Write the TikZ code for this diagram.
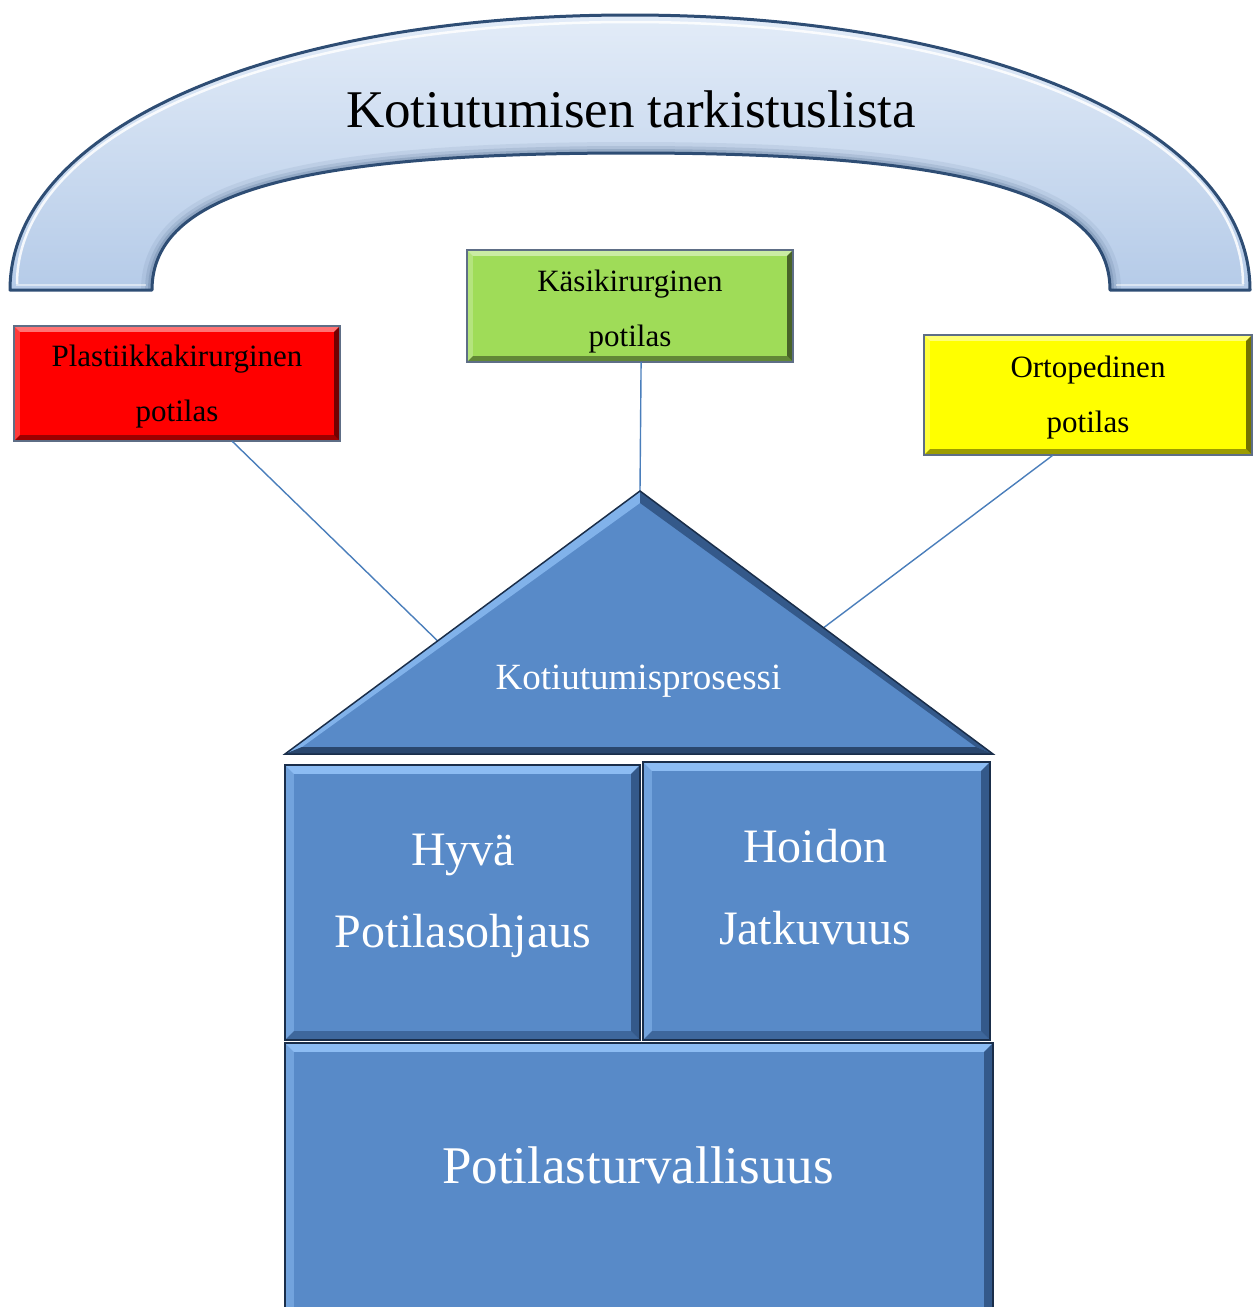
\documentclass[tikz,border=0pt]{standalone}
\usepackage{fontspec}
\setmainfont{Liberation Serif}
\usetikzlibrary{calc}

\definecolor{archTop}{HTML}{E3ECF8}
\definecolor{archBot}{HTML}{B5CBE8}
\definecolor{archLine}{HTML}{2E4D74}
\definecolor{roofBlue}{HTML}{588AC8}
\definecolor{roofLight}{HTML}{8CBCF3}
\definecolor{roofDark}{HTML}{34598A}
\definecolor{roofEdge}{HTML}{1A2E4A}
\definecolor{wireBlue}{HTML}{4A7EBB}
\definecolor{plastRed}{HTML}{FF0000}
\definecolor{handGreen}{HTML}{9FDC58}
\definecolor{orthoYellow}{HTML}{FFFF00}
\definecolor{tagEdge}{HTML}{5E6E86}

% outline of the arch band
\newcommand\archoutline{(10,290) .. controls (10,130) and (270,15) .. (630,15)
  .. controls (990,15) and (1250,130) .. (1250,290) -- (1110,290)
  .. controls (1110,194) and (967,153) .. (631,153)
  .. controls (295,153) and (152,194) .. (152,290) -- cycle}
% its inner edge only
\newcommand\archinner{(1110,290)
  .. controls (1110,194) and (967,153) .. (631,153)
  .. controls (295,153) and (152,194) .. (152,290)}

% bevelled edges for a rectangular node:
% #1 node, #2 light colour, #3 dark colour, #4 bevel width, #5 outline colour
\newcommand\bevelbox[5]{%
  \fill[#2] (#1.north west) -- (#1.north east) -- ([shift={(-#4,-#4)}]#1.north east)
    -- ([shift={(#4,-#4)}]#1.north west) -- cycle;
  \fill[#2,opacity=0.5] (#1.north west) -- ([shift={(#4,-#4)}]#1.north west)
    -- ([shift={(#4,#4)}]#1.south west) -- (#1.south west) -- cycle;
  \fill[#3,opacity=0.7] (#1.south west) -- ([shift={(#4,#4)}]#1.south west)
    -- ([shift={(-#4,#4)}]#1.south east) -- (#1.south east) -- cycle;
  \fill[#3] (#1.north east) -- ([shift={(-#4,-#4)}]#1.north east)
    -- ([shift={(-#4,#4)}]#1.south east) -- (#1.south east) -- cycle;
  \draw[#5,line width=1.5pt] (#1.north west) rectangle (#1.south east);
}

\begin{document}
\begin{tikzpicture}[x=1pt,y=-1pt,
  tag/.style={rectangle,inner sep=0pt,fill=#1},
  tagtext/.style={align=center,font=\fontsize{31}{55}\selectfont,inner sep=0pt},
  block/.style={rectangle,inner sep=0pt,fill=roofBlue},
  blocktext/.style={text=white,align=center,font=\fontsize{48}{82}\selectfont,inner sep=0pt},
  wire/.style={draw=wireBlue,line width=1.4pt}]
\useasboundingbox (0,0) rectangle (1254,1307);

% the arch over everything
\path[top color=archTop,bottom color=archBot] \archoutline;
\begin{scope}
  \clip \archoutline;
  % soft shadow along the inner edge
  \draw[archLine,line width=22pt,opacity=0.08] \archinner;
  \draw[archLine,line width=14pt,opacity=0.12] \archinner;
  \draw[archLine,line width=8pt,opacity=0.18] \archinner;
  % highlight along the outer edge
  \draw[white,line width=2.5pt,opacity=0.85]
    (17,284) .. controls (17,134) and (272,22) .. (630,22)
    .. controls (988,22) and (1243,134) .. (1243,284);
  \draw[white,line width=2pt,opacity=0.5] (16,285) -- (146,285);
  \draw[white,line width=2pt,opacity=0.5] (1116,285) -- (1244,285);
\end{scope}
\draw[archLine,line width=3pt,line join=round] \archoutline;
\node[font=\fontsize{53}{60}\selectfont,anchor=base] (title) at (631,127) {Kotiutumisen tarkistuslista};

% patient groups
\node[tag=plastRed,minimum width=326pt,minimum height=115pt] (plast) at (177,383.5) {};
\node[tag=handGreen,minimum width=326pt,minimum height=112pt] (hand) at (630,306) {};
\node[tag=orthoYellow,minimum width=328pt,minimum height=120pt] (ortho) at (1088,395) {};
\bevelbox{plast}{plastRed!55!white}{plastRed!45!black}{6pt}{tagEdge}
\bevelbox{hand}{handGreen!55!white}{handGreen!45!black}{6pt}{tagEdge}
\bevelbox{ortho}{orthoYellow!55!white}{orthoYellow!45!black}{6pt}{tagEdge}
\node[tagtext] (plastText) at (177,387) {Plastiikkakirurginen\\potilas};
\node[tagtext] (handText) at (630,312) {Käsikirurginen\\potilas};
\node[tagtext] (orthoText) at (1088,398) {Ortopedinen\\potilas};

% roof corners
\coordinate (apex) at (640,491);
\coordinate (baseL) at (285,754);
\coordinate (baseR) at (993,754);

% connectors from the groups to the roof
\draw[wire] ($(plast.south west)!0.669!(plast.south east)$) -- ($(apex)!0.57!(baseL)$);
\draw[wire] ($(hand.south west)!0.534!(hand.south east)$) -- (apex);
\draw[wire] ($(ortho.south west)!0.393!(ortho.south east)$) -- ($(apex)!0.52!(baseR)$);

% the roof
\coordinate (apexIn) at (640,503);
\coordinate (baseLIn) at (302,747);
\coordinate (baseRIn) at (976,747);
\fill[roofBlue] (apex) -- (baseR) -- (baseL) -- cycle;
\fill[roofLight,opacity=0.8] (apex) -- (apexIn) -- (baseLIn) -- (baseL) -- cycle;
\fill[roofDark] (apex) -- (baseR) -- (baseRIn) -- (apexIn) -- cycle;
\fill[roofDark!80!black] (baseL) -- (baseLIn) -- (baseRIn) -- (baseR) -- cycle;
\draw[roofEdge,line width=1.5pt,line join=miter] (apex) -- (baseR) -- (baseL) -- cycle;
\node[text=white,font=\fontsize{37}{44}\selectfont,anchor=base] (process) at (638.5,689) {Kotiutumisprosessi};

% the walls
\node[block,minimum width=355pt,minimum height=275pt] (guide) at (462.5,902.5) {};
\node[block,minimum width=347pt,minimum height=278pt] (cont) at (816.5,901) {};
\node[block,minimum width=708pt,minimum height=290pt] (safety) at (639,1188) {};
\bevelbox{guide}{roofLight}{roofDark}{9pt}{roofEdge}
\bevelbox{cont}{roofLight}{roofDark}{9pt}{roofEdge}
\bevelbox{safety}{roofLight}{roofDark}{9pt}{roofEdge}
\node[blocktext] (guideText) at (463,896) {Hyvä\\Potilasohjaus};
\node[blocktext] (contText) at (815,887) {Hoidon\\Jatkuvuus};
\node[text=white,font=\fontsize{53}{60}\selectfont,anchor=base] (safetyText) at (638,1183) {Potilasturvallisuus};
\end{tikzpicture}
\end{document}
